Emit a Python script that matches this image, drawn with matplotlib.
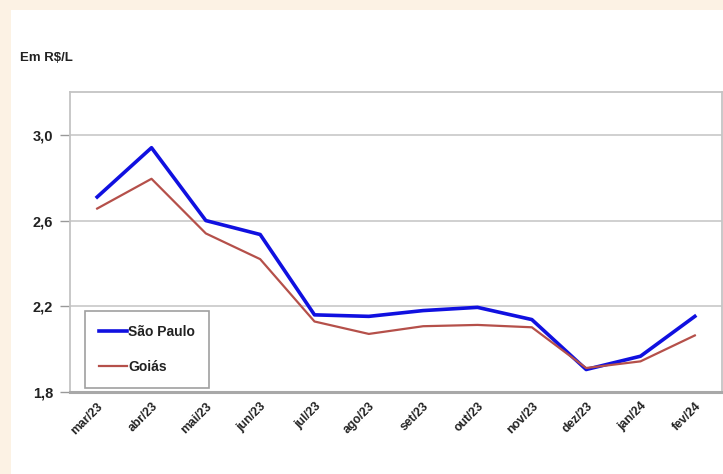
import matplotlib
matplotlib.use("Agg")
import matplotlib.pyplot as plt
from matplotlib.patches import Rectangle

# data
months = ['mar/23', 'abr/23', 'mai/23', 'jun/23', 'jul/23', 'ago/23',
          'set/23', 'out/23', 'nov/23', 'dez/23', 'jan/24', 'fev/24']
sao_paulo = [2.71, 2.94, 2.60, 2.535, 2.16, 2.153, 2.18, 2.195, 2.138, 1.905, 1.967, 2.153]
goias = [2.656, 2.795, 2.54, 2.42, 2.129, 2.071, 2.107, 2.113, 2.102, 1.912, 1.943, 2.064]
yticks = [1.8, 2.2, 2.6, 3.0]
ytick_labels = ['1,8', '2,2', '2,6', '3,0']

plt.rcParams['font.family'] = ['Liberation Sans', 'DejaVu Sans']

fig = plt.figure(figsize=(7.23, 4.74), dpi=100)
fig.patch.set_facecolor('#fcf2e4')
# white panel, the cream shows only on the left and top edges
fig.patches.append(Rectangle((11/723, 0), 1, 1 - 10/474, transform=fig.transFigure,
                             facecolor='white', edgecolor='none', zorder=-10))

ax = fig.add_axes([70/723, 1 - 392/474, 652/723, 300/474])
ax.set_facecolor('white')

x = list(range(len(months)))
ax.plot(x, sao_paulo, color='#1010e0', lw=2.6, label='São Paulo', zorder=3)
ax.plot(x, goias, color='#b5504a', lw=1.6, label='Goiás', zorder=3)

ax.set_xlim(-0.5, len(months) - 0.5)
ax.set_ylim(1.8, 3.2)
ax.set_yticks(yticks)
ax.set_yticklabels(ytick_labels, fontsize=10.5, fontweight='bold', color='#222222')
ax.set_xticks(x)
ax.set_xticklabels(months, rotation=45, ha='right', rotation_mode='anchor',
                   fontsize=8.8, fontweight='bold', color='#222222')
ax.tick_params(axis='x', length=0, pad=6)
ax.tick_params(axis='y', length=7, width=1, color='#999999', pad=5)

ax.grid(axis='y', color='#c8c8c8', lw=1.2)
ax.set_axisbelow(True)
for s in ['left', 'top', 'right']:
  ax.spines[s].set_color('#c4c4c4')
  ax.spines[s].set_linewidth(1.3)
ax.spines['bottom'].set_color('#a8a8a8')
ax.spines['bottom'].set_linewidth(2.2)

leg = ax.legend(loc='lower left', bbox_to_anchor=(0.023, 0.015), frameon=True, fancybox=False,
                prop={'size': 10, 'weight': 'bold'}, handlelength=2.0, handletextpad=0.1,
                labelspacing=1.5, borderpad=1.0, borderaxespad=0)
leg.get_frame().set_edgecolor('#888888')
leg.get_frame().set_linewidth(1.2)
for t in leg.get_texts():
  t.set_color('#222222')

fig.text(20/723, 1 - 58/474, 'Em R$/L', fontsize=9.5, fontweight='bold', va='center',
         color='#222222')

fig.savefig('out.png', dpi=100)
